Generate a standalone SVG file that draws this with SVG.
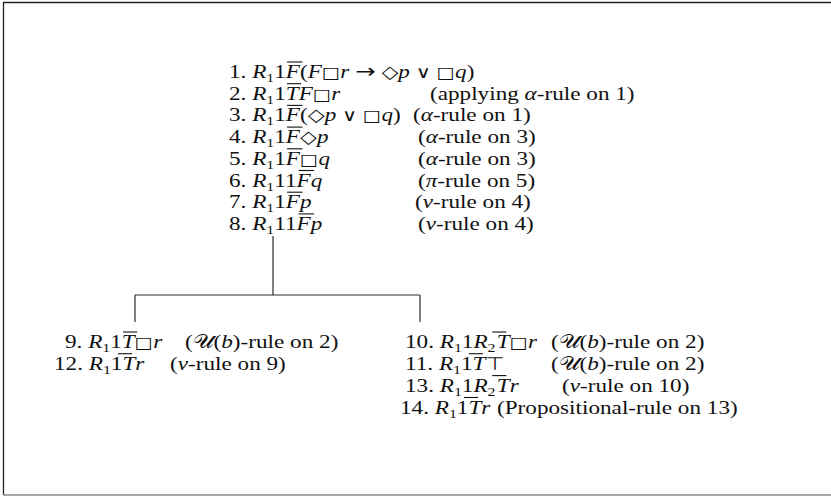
<svg xmlns="http://www.w3.org/2000/svg" width="831" height="498" viewBox="0 0 831 498">
<style>
text{font-family:"Liberation Serif","Times New Roman",serif;font-size:19px;fill:#111}
.i{font-style:italic}
.s{font-size:13px}
.y{font-family:"DejaVu Sans",sans-serif;font-size:16px}
.d{font-family:"DejaVu Sans",sans-serif;font-size:18px}
.ar{font-family:"DejaVu Sans",sans-serif;font-size:20px}
.v{font-family:"DejaVu Sans",sans-serif;font-size:17px}
.ov{stroke:#111;stroke-width:1.1}
.c line{stroke:#2a2a2a;stroke-width:1.2}
</style>
<rect width="831" height="498" fill="#fff"/>
<g id="frame" stroke="#222" stroke-width="1.3">
<line x1="3" y1="2.5" x2="831" y2="2.5"/>
<line x1="3.5" y1="2" x2="3.5" y2="495"/>
<line x1="3" y1="495" x2="831" y2="495" stroke="#888"/>
</g>
<g id="n1"><g transform="translate(229,78) scale(1.22,1)"><text>1. <tspan class="i">R</tspan><tspan class="s" dy="4">1</tspan><tspan dy="-4">1</tspan><tspan class="i">F</tspan>(<tspan class="i">F</tspan><tspan class="y">□</tspan><tspan class="i">r</tspan> <tspan class="ar">→</tspan> <tspan class="d">◇</tspan><tspan class="i">p</tspan> <tspan class="v">∨</tspan> <tspan class="y">□</tspan><tspan class="i">q</tspan>)</text><line class="ov" x1="47.6" y1="-16" x2="60.2" y2="-16"/></g></g>
<g id="n2"><g transform="translate(229,99.7) scale(1.22,1)"><text>2. <tspan class="i">R</tspan><tspan class="s" dy="4">1</tspan><tspan dy="-4">1</tspan><tspan class="i">T</tspan><tspan class="i">F</tspan><tspan class="y">□</tspan><tspan class="i">r</tspan></text><line class="ov" x1="47.6" y1="-16" x2="59.2" y2="-16"/></g><text transform="translate(430,99.7) scale(1.22,1)">(applying <tspan class="i">α</tspan>-rule on 1)</text></g>
<g id="n3"><g transform="translate(229,121.4) scale(1.22,1)"><text>3. <tspan class="i">R</tspan><tspan class="s" dy="4">1</tspan><tspan dy="-4">1</tspan><tspan class="i">F</tspan>(<tspan class="d">◇</tspan><tspan class="i">p</tspan> <tspan class="v">∨</tspan> <tspan class="y">□</tspan><tspan class="i">q</tspan>)</text><line class="ov" x1="47.6" y1="-16" x2="60.2" y2="-16"/></g><text transform="translate(413,121.4) scale(1.22,1)">(<tspan class="i">α</tspan>-rule on 1)</text></g>
<g id="n4"><g transform="translate(229,143.1) scale(1.22,1)"><text>4. <tspan class="i">R</tspan><tspan class="s" dy="4">1</tspan><tspan dy="-4">1</tspan><tspan class="i">F</tspan><tspan class="d">◇</tspan><tspan class="i">p</tspan></text><line class="ov" x1="47.6" y1="-16" x2="60.2" y2="-16"/></g><text transform="translate(418,143.1) scale(1.22,1)">(<tspan class="i">α</tspan>-rule on 3)</text></g>
<g id="n5"><g transform="translate(229,164.8) scale(1.22,1)"><text>5. <tspan class="i">R</tspan><tspan class="s" dy="4">1</tspan><tspan dy="-4">1</tspan><tspan class="i">F</tspan><tspan class="y">□</tspan><tspan class="i">q</tspan></text><line class="ov" x1="47.6" y1="-16" x2="60.2" y2="-16"/></g><text transform="translate(418,164.8) scale(1.22,1)">(<tspan class="i">α</tspan>-rule on 3)</text></g>
<g id="n6"><g transform="translate(229,186.5) scale(1.22,1)"><text>6. <tspan class="i">R</tspan><tspan class="s" dy="4">1</tspan><tspan dy="-4">11</tspan><tspan class="i">F</tspan><tspan class="i">q</tspan></text><line class="ov" x1="57.1" y1="-16" x2="69.7" y2="-16"/></g><text transform="translate(418,186.5) scale(1.22,1)">(<tspan class="i">π</tspan>-rule on 5)</text></g>
<g id="n7"><g transform="translate(229,208.2) scale(1.22,1)"><text>7. <tspan class="i">R</tspan><tspan class="s" dy="4">1</tspan><tspan dy="-4">1</tspan><tspan class="i">F</tspan><tspan class="i">p</tspan></text><line class="ov" x1="47.6" y1="-16" x2="60.2" y2="-16"/></g><text transform="translate(415,208.2) scale(1.22,1)">(<tspan class="i">ν</tspan>-rule on 4)</text></g>
<g id="n8"><g transform="translate(229,229.9) scale(1.22,1)"><text>8. <tspan class="i">R</tspan><tspan class="s" dy="4">1</tspan><tspan dy="-4">11</tspan><tspan class="i">F</tspan><tspan class="i">p</tspan></text><line class="ov" x1="57.1" y1="-16" x2="69.7" y2="-16"/></g><text transform="translate(418,229.9) scale(1.22,1)">(<tspan class="i">ν</tspan>-rule on 4)</text></g>
<g id="connectors" class="c">
<line x1="273" y1="236" x2="273" y2="295"/>
<line x1="135" y1="295" x2="420" y2="295"/>
<line x1="135" y1="295" x2="135" y2="322"/>
<line x1="420" y1="295" x2="420" y2="322"/>
</g>
<g id="n9"><g transform="translate(65,348) scale(1.22,1)"><text>9. <tspan class="i">R</tspan><tspan class="s" dy="4">1</tspan><tspan dy="-4">1</tspan><tspan class="i">T</tspan><tspan class="y">□</tspan><tspan class="i">r</tspan></text><line class="ov" x1="47.6" y1="-16" x2="59.2" y2="-16"/></g><text transform="translate(185,348) scale(1.22,1)">(𝒰(<tspan class="i">b</tspan>)-rule on 2)</text></g>
<g id="n12"><g transform="translate(54,369.7) scale(1.22,1)"><text>12. <tspan class="i">R</tspan><tspan class="s" dy="4">1</tspan><tspan dy="-4">1</tspan><tspan class="i">T</tspan><tspan class="i">r</tspan></text><line class="ov" x1="52.4" y1="-16" x2="64" y2="-16"/></g><text transform="translate(170,369.7) scale(1.22,1)">(<tspan class="i">ν</tspan>-rule on 9)</text></g>
<g id="n10"><g transform="translate(405,348) scale(1.22,1)"><text>10. <tspan class="i">R</tspan><tspan class="s" dy="4">1</tspan><tspan dy="-4">1</tspan><tspan class="i">R</tspan><tspan class="s" dy="4">2</tspan><tspan class="i" dy="-4" dx="1">T</tspan><tspan class="y">□</tspan><tspan class="i">r</tspan></text><line class="ov" x1="71.5" y1="-16" x2="83.1" y2="-16"/></g><text transform="translate(551,348) scale(1.22,1)">(𝒰(<tspan class="i">b</tspan>)-rule on 2)</text></g>
<g id="n11"><g transform="translate(405,369.7) scale(1.22,1)"><text>11. <tspan class="i">R</tspan><tspan class="s" dy="4">1</tspan><tspan dy="-4">1</tspan><tspan class="i">T</tspan><tspan class="d">⊤</tspan></text><line class="ov" x1="52.4" y1="-16" x2="64" y2="-16"/></g><text transform="translate(551,369.7) scale(1.22,1)">(𝒰(<tspan class="i">b</tspan>)-rule on 2)</text></g>
<g id="n13"><g transform="translate(405,391.6) scale(1.22,1)"><text>13. <tspan class="i">R</tspan><tspan class="s" dy="4">1</tspan><tspan dy="-4">1</tspan><tspan class="i">R</tspan><tspan class="s" dy="4">2</tspan><tspan class="i" dy="-4" dx="1">T</tspan><tspan class="i">r</tspan></text><line class="ov" x1="71.5" y1="-16" x2="83.1" y2="-16"/></g><text transform="translate(562,391.6) scale(1.22,1)">(<tspan class="i">ν</tspan>-rule on 10)</text></g>
<g id="n14"><g transform="translate(400,413.5) scale(1.22,1)"><text>14. <tspan class="i">R</tspan><tspan class="s" dy="4">1</tspan><tspan dy="-4">1</tspan><tspan class="i">T</tspan><tspan class="i">r</tspan></text><line class="ov" x1="52.4" y1="-16" x2="64" y2="-16"/></g><text transform="translate(497,413.5) scale(1.22,1)">(Propositional-rule on 13)</text></g>
</svg>
